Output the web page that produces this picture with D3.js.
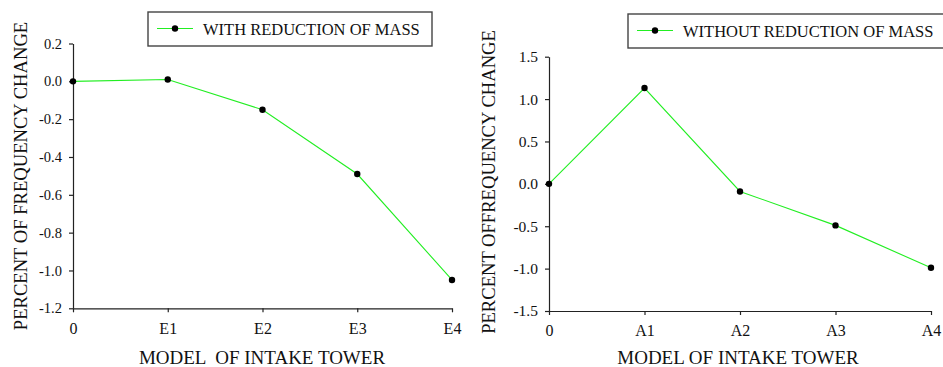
<!DOCTYPE html>
<html>
<head>
<meta charset="utf-8">
<script src="https://cdn.jsdelivr.net/npm/d3@7"></script>
<style>
  body { margin: 0; background: #fff; }
</style>
</head>
<body>
<svg width="943" height="367"></svg>
<script>
// data
const leftCats = ["0", "E1", "E2", "E3", "E4"];
const leftVals = [0, 0.01, -0.15, -0.49, -1.05];
const leftTicks = [0.2, 0.0, -0.2, -0.4, -0.6, -0.8, -1.0, -1.2];

const rightCats = ["0", "A1", "A2", "A3", "A4"];
const rightVals = [0, 1.13, -0.09, -0.49, -0.99];
const rightTicks = [1.5, 1.0, 0.5, 0.0, -0.5, -1.0, -1.5];

const serif = "'Liberation Serif', 'Times New Roman', Times, serif";
const svg = d3.select("svg").style("font-family", serif);

function drawPanel(cfg) {
    const g = svg.append("g");
    const x = d3.scalePoint().domain(cfg.cats).range(cfg.xr);
    const y = d3.scaleLinear().domain(cfg.yd).range(cfg.yr);

    // axes
    const yAxis = d3.axisLeft(y)
        .tickValues(cfg.ticks)
        .tickFormat(d => d.toFixed(1))
        .tickSize(4).tickSizeOuter(0).tickPadding(7);
    const ya = g.append("g")
        .attr("transform", `translate(${cfg.xr[0]},0)`)
        .call(yAxis)
        .attr("font-family", serif);
    ya.selectAll("text")
        .style("font-size", cfg.yFont + "px").attr("fill", "#111");

    const xAxis = d3.axisBottom(x).tickSize(4).tickSizeOuter(0).tickPadding(10);
    const xa = g.append("g")
        .attr("transform", `translate(0,${cfg.yr[0]})`)
        .call(xAxis)
        .attr("font-family", serif);
    xa.selectAll("text")
        .style("font-size", "16px").attr("fill", "#111");

    g.selectAll(".domain, .tick line").attr("stroke", "#222").attr("stroke-width", 1.2);

    // line
    const pts = cfg.cats.map((c, i) => [c, cfg.vals[i]]);
    g.append("path")
        .datum(pts)
        .attr("fill", "none")
        .attr("stroke", "#22ee22")
        .attr("stroke-width", 1.1)
        .attr("d", d3.line().x(d => x(d[0])).y(d => y(d[1])));

    g.selectAll(".dot")
        .data(pts)
        .enter()
        .append("circle")
        .attr("cx", d => x(d[0]))
        .attr("cy", d => y(d[1]))
        .attr("r", 3.2)
        .attr("fill", "#000");

    // axis titles
    g.append("text")
        .attr("x", cfg.xTitleX).attr("y", 364)
        .attr("text-anchor", "middle")
        .attr("fill", "#111")
        .style("font-size", "19px")
        .style("white-space", "pre")
        .text(cfg.xTitle);

    g.append("text")
        .attr("transform", `translate(${cfg.yTitleX},${cfg.yTitleY}) rotate(-90)`)
        .attr("text-anchor", "middle")
        .attr("dy", "0.35em")
        .attr("fill", "#111")
        .style("font-size", "18.6px")
        .text(cfg.yTitle);

    // legend
    const lg = g.append("g").attr("transform", `translate(${cfg.leg[0]},${cfg.leg[1]})`);
    lg.append("rect")
        .attr("width", cfg.leg[2]).attr("height", 34)
        .attr("fill", "#fff").attr("stroke", "#444").attr("stroke-width", 1.4);
    lg.append("line")
        .attr("x1", 9).attr("x2", 45).attr("y1", 16.5).attr("y2", 16.5)
        .attr("stroke", "#22ee22").attr("stroke-width", 1.1);
    lg.append("circle").attr("cx", 27).attr("cy", 16.5).attr("r", 3.2).attr("fill", "#000");
    lg.append("text")
        .attr("x", 55).attr("y", 23)
        .attr("fill", "#111")
        .style("font-size", "16.5px")
        .text(cfg.legText);
}

drawPanel({
    cats: leftCats, vals: leftVals, ticks: leftTicks,
    xr: [73, 452], yd: [-1.2, 0.2], yr: [308.3, 43.5], yFont: 14.5,
    xTitle: "MODEL  OF INTAKE TOWER", xTitleX: 262,
    yTitle: "PERCENT OF FREQUENCY CHANGE", yTitleX: 20, yTitleY: 176,
    leg: [148, 12, 284], legText: "WITH REDUCTION OF MASS"
});

drawPanel({
    cats: rightCats, vals: rightVals, ticks: rightTicks,
    xr: [549, 931], yd: [-1.5, 1.5], yr: [311, 56.7], yFont: 15.5,
    xTitle: "MODEL OF INTAKE TOWER", xTitleX: 738,
    yTitle: "PERCENT OFFREQUENCY CHANGE", yTitleX: 488, yTitleY: 182,
    leg: [628, 14, 330], legText: "WITHOUT REDUCTION OF MASS"
});
</script>
</body>
</html>
